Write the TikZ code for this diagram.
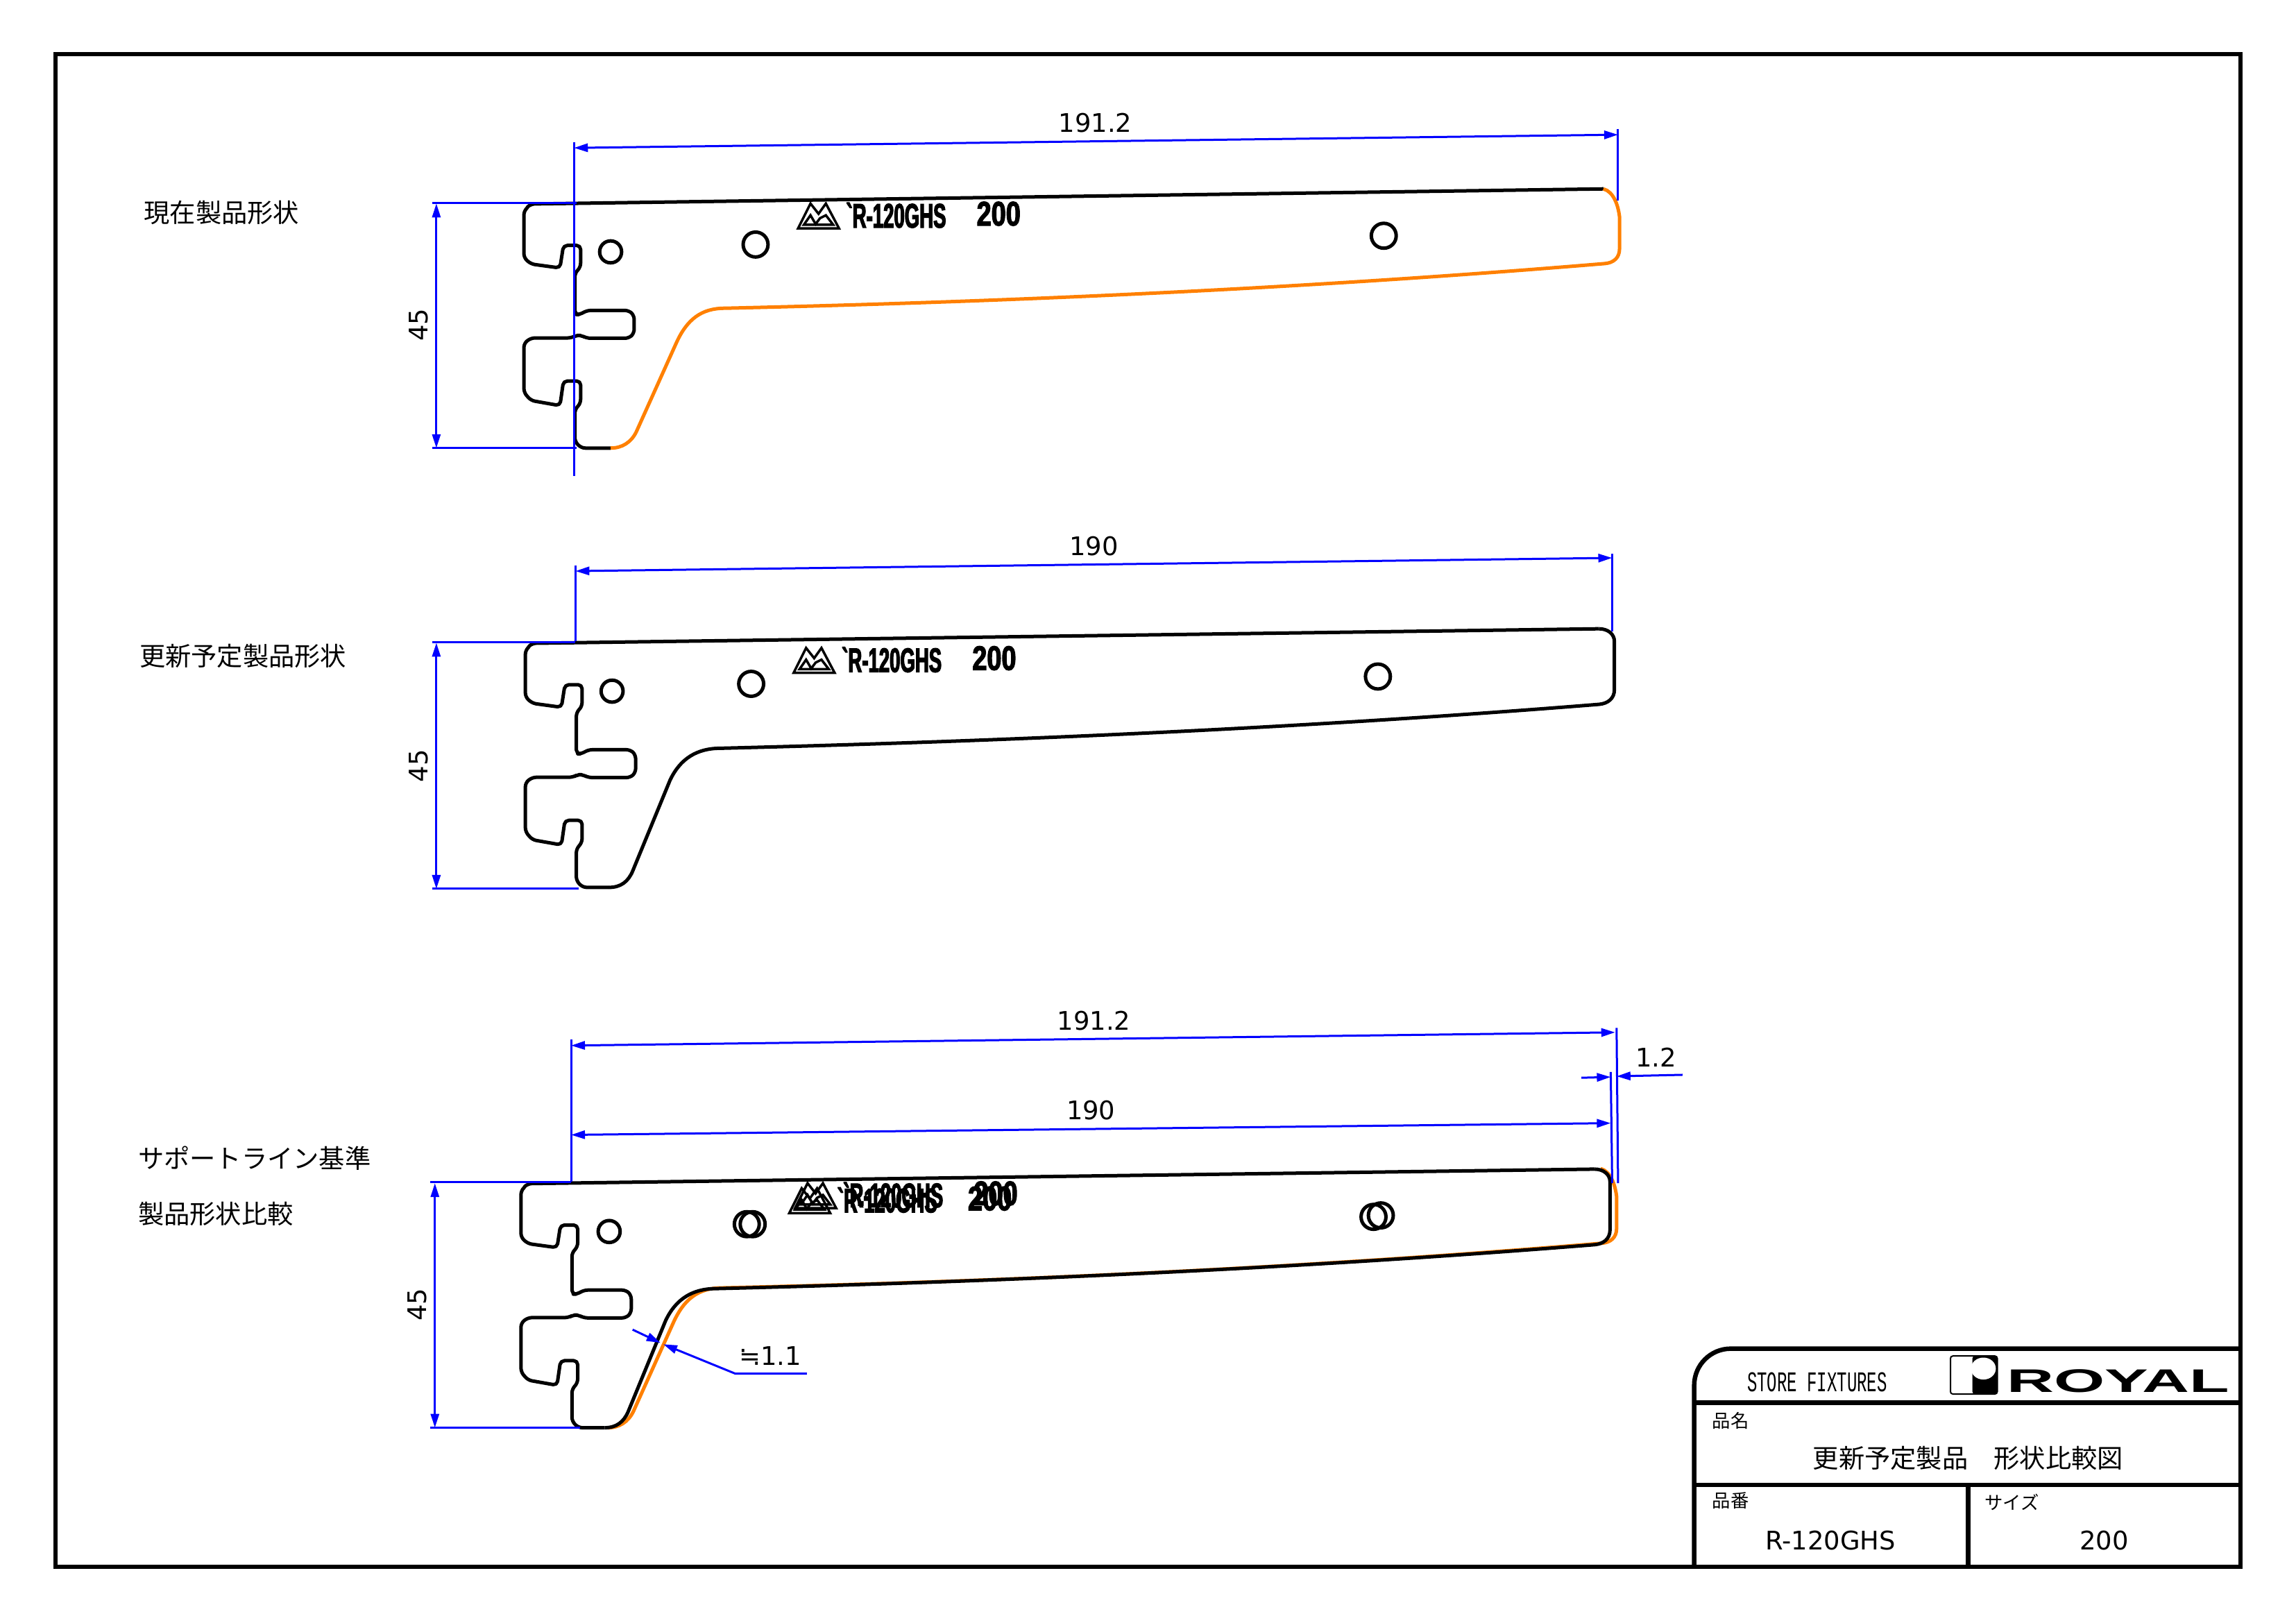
\documentclass[tikz,border=0pt]{standalone}
\usepackage{fontspec}
\setmainfont{DejaVu Sans}
\newfontfamily\jpfont{Noto Sans CJK JP}
\newfontfamily\stampfont[FakeStretch=0.56,FakeBold=2.5]{Liberation Sans Bold}
\newfontfamily\stampwide[FakeStretch=0.77,FakeBold=2.5]{Liberation Sans Bold}
\newfontfamily\storefont[FakeStretch=0.584]{Liberation Mono}
\newfontfamily\royalfont[FakeStretch=2.0]{Liberation Sans Bold}
\usetikzlibrary{arrows.meta}

\definecolor{dimblue}{RGB}{0,0,255}
\definecolor{oldorange}{RGB}{255,128,0}

\newcommand{\dimtxt}{\fontsize{10.5}{12}\selectfont}
\newcommand{\jptxt}{\jpfont\fontsize{10.6}{12}\selectfont}
\newcommand{\jpsmall}{\jpfont\fontsize{7.5}{9}\selectfont}

% common edge, from the bottom up round the slots to the top edge
\newcommand{\slotline}{--(5,168)--(0.6,163.5)--(0.6,141.6)--(4.5,137.5)--(4.5,122.2)--(-7.2,122.2)--(-9.6,139)--(-29.4,135.5)--(-34.2,130)--(-34.2,96.5)--(-29.4,92.8)--(-1.8,92.8)--(1.5,91)--(5,91)--(8.7,93)--(37.5,93)--(41.1,89.5)--(41.1,77.5)--(37.5,74)--(8.7,74)--(4.2,76.8)--(0.6,76.8)--(0.6,48.5)--(4.5,44.5)--(4.5,29.6)--(-7.2,29.6)--(-9.6,45)--(-29.4,42.3)--(-34.2,38)--(-34.2,6)--(-29.5,1.3)}
\newcommand{\oldtail}{(25,168) .. controls (33,168) and (39,164) .. (42.5,157)--(69.5,97) .. controls (77,80) and (87,72.5) .. (103,72.5) .. controls (300,68) and (500,59) .. (704,42) .. controls (710,41.5) and (714,38) .. (714,32)--(714,10) .. controls (713,2) and (710,-7) .. (703,-9)}
\newcommand{\newtail}{(23,168) .. controls (31,168) and (36,164) .. (39,157)--(64.5,95) .. controls (71.5,80) and (83,73) .. (99,73) .. controls (300,68) and (500,59) .. (699,43) .. controls (705,42.5) and (709.5,39) .. (709.5,33)--(709.5,0) .. controls (709.5,-5) and (705,-8.6) .. (699,-8.6)}

% stamp on the bracket: #1,#2 left end of the mark, #3 name
\newcommand{\stampmark}[3]{
\draw [stampline,shift={(#1,#2)}] (0,17)--(8.5,0)--(14,7)--(19,0)--(28,17)--cycle;
\draw [stampline,shift={(#1,#2)}] (4,14.5)--(8.5,8)--(12,14)--(15,10)--(19,8)--(24,14.5)--cycle;
\draw (#1+67,#2+8)node[textnode](stamp#3){\stampfont\fontsize{14}{14}\selectfont `R-120GHS};
\draw (#1+137,#2+7)node[textnode](size#3){\stampwide\fontsize{14}{14}\selectfont 200};
}

\tikzset{
textnode/.style={inner sep=0pt},
part/.style={line width=0.05cm,rounded corners=1.6pt,line join=round},
oldpart/.style={line width=0.05cm,color=oldorange},
stampline/.style={line width=0.035cm,line join=miter},
dimline/.style={color=dimblue,line width=0.03cm,<->,>={Triangle[length=0.2cm,width=0.12cm]}},
extline/.style={color=dimblue,line width=0.03cm},
hole/.style={line width=0.05cm},
frameline/.style={line width=0.065cm},
headtip/.style={-{Triangle[length=0.2cm,width=0.12cm]}}
}

\begin{document}
\begin{tikzpicture}[x=0.021103cm,y=-0.021103cm]
\useasboundingbox (0,0) rectangle (1568,1108.3);

% first bracket
\begin{scope}[shift={(392,138)}]
\draw [part] (25,168)\slotline--(703,-9);
\draw [oldpart] \oldtail;
\draw [hole] (25,34) circle (7.5);
\draw [hole] (124,29) circle (8.5);
\draw [hole] (553,23) circle (8.5);
\stampmark{153}{1}{A}
\end{scope}

% second bracket
\begin{scope}[shift={(393,438)}]
\draw [part] (23,168)\slotline--(699,-8.6);
\draw [line width=0.05cm] \newtail;
\draw [hole] (25,34) circle (7.5);
\draw [hole] (120,29) circle (8.5);
\draw [hole] (548,24) circle (8.5);
\stampmark{149}{4.5}{B}
\end{scope}

% both outlines laid over
\begin{scope}[shift={(390,807)}]
\draw [oldpart] \oldtail;
\draw [part] (23,168)\slotline--(699,-8.6);
\draw [line width=0.05cm] \newtail;
\draw [hole] (26,34) circle (7.5);
\draw [hole] (120,29) circle (8.5);
\draw [hole] (124,29) circle (8.5);
\draw [hole] (548,24) circle (8.5);
\draw [hole] (553,23) circle (8.5);
\stampmark{153}{1}{C}
\stampmark{149}{4.5}{D}
\end{scope}

% dimensions, first bracket
\draw [extline] (392,97)--(392,325);
\draw [extline] (1105,88)--(1105,137);
\draw [extline] (295,138.5)--(394,138.5);
\draw [extline] (295,306)--(394,306);
\draw [dimline] (392,101)--(1105,92);
\draw [dimline] (298,139)--(298,306);
\draw (748,84)node[textnode](lenA){\dimtxt 191.2};
\draw (286,222)node[textnode,rotate=90](highA){\dimtxt 45};

% dimensions, second bracket
\draw [extline] (393,386)--(393,438);
\draw [extline] (1101,378)--(1101,431);
\draw [extline] (295,438.5)--(393,438.5);
\draw [extline] (295,607)--(395,607);
\draw [dimline] (393,390)--(1101,381);
\draw [dimline] (298,439)--(298,607);
\draw (747,373)node[textnode](lenB){\dimtxt 190};
\draw (286,523)node[textnode,rotate=90](highB){\dimtxt 45};

% dimensions, third bracket
\draw [extline] (390,710)--(390,807);
\draw [extline] (1104,702)--(1105,808);
\draw [extline] (1100,732)--(1101,808);
\draw [extline] (294,807)--(390,807);
\draw [extline] (294,975)--(396,975);
\draw [dimline] (390,714)--(1103,705);
\draw [dimline] (390,775)--(1100,767);
\draw [dimline] (297,808)--(297,975);
\draw [extline,headtip] (1080,736)--(1100,735.5);
\draw [extline,headtip] (1149,734)--(1104,735);
\draw [extline,headtip] (432,908)--(451,917);
\draw [extline,headtip] (551,938)--(502,938)--(453,918);
\draw (747,697)node[textnode](lenC){\dimtxt 191.2};
\draw (745,758)node[textnode](lenD){\dimtxt 190};
\draw (1131,722)node[textnode](stepE){\dimtxt 1.2};
\draw (526,926)node[textnode](stepF){\dimtxt ≒1.1};
\draw (285,891)node[textnode,rotate=90](highC){\dimtxt 45};

% left hand labels
\draw (98,145)node[textnode,anchor=west](lblNow){\jptxt 現在製品形状};
\draw (95,448)node[textnode,anchor=west](lblNew){\jptxt 更新予定製品形状};
\draw (94,791)node[textnode,anchor=west](lblBase){\jptxt サポートライン基準};
\draw (94,829)node[textnode,anchor=west](lblComp){\jptxt 製品形状比較};

% frame and title block
\draw [frameline] (38,37) rectangle (1530,1070);
\draw [frameline] (1157,1070)--(1157,946) arc (180:270:25)--(1530,921);
\draw [frameline] (1157,958)--(1530,958);
\draw [frameline] (1157,1014)--(1530,1014);
\draw [frameline] (1344,1014)--(1344,1070);
\draw (1241,944)node[textnode](store){\storefont\fontsize{11.7}{12}\selectfont STORE FIXTURES};
\draw [line width=0.02cm,rounded corners=1pt] (1332,926) rectangle (1364,952);
\fill [rounded corners=1pt] (1347,926) rectangle (1364,952);
\fill [white] (1354.5,934.6) ellipse (8.5 and 7.5);
\draw (1446.5,943)node[textnode](royal){\royalfont\fontsize{13.4}{14}\selectfont ROYAL};
\draw (1169,970)node[textnode,anchor=west](capName){\jpsmall 品名};
\draw (1344,996)node[textnode](title){\jptxt 更新予定製品　形状比較図};
\draw (1169,1025)node[textnode,anchor=west](capNum){\jpsmall 品番};
\draw (1355,1026)node[textnode,anchor=west](capSize){\jpsmall サイズ};
\draw (1250,1052)node[textnode](partNum){\dimtxt R-120GHS};
\draw (1437,1052)node[textnode](partSize){\dimtxt 200};
\end{tikzpicture}
\end{document}
